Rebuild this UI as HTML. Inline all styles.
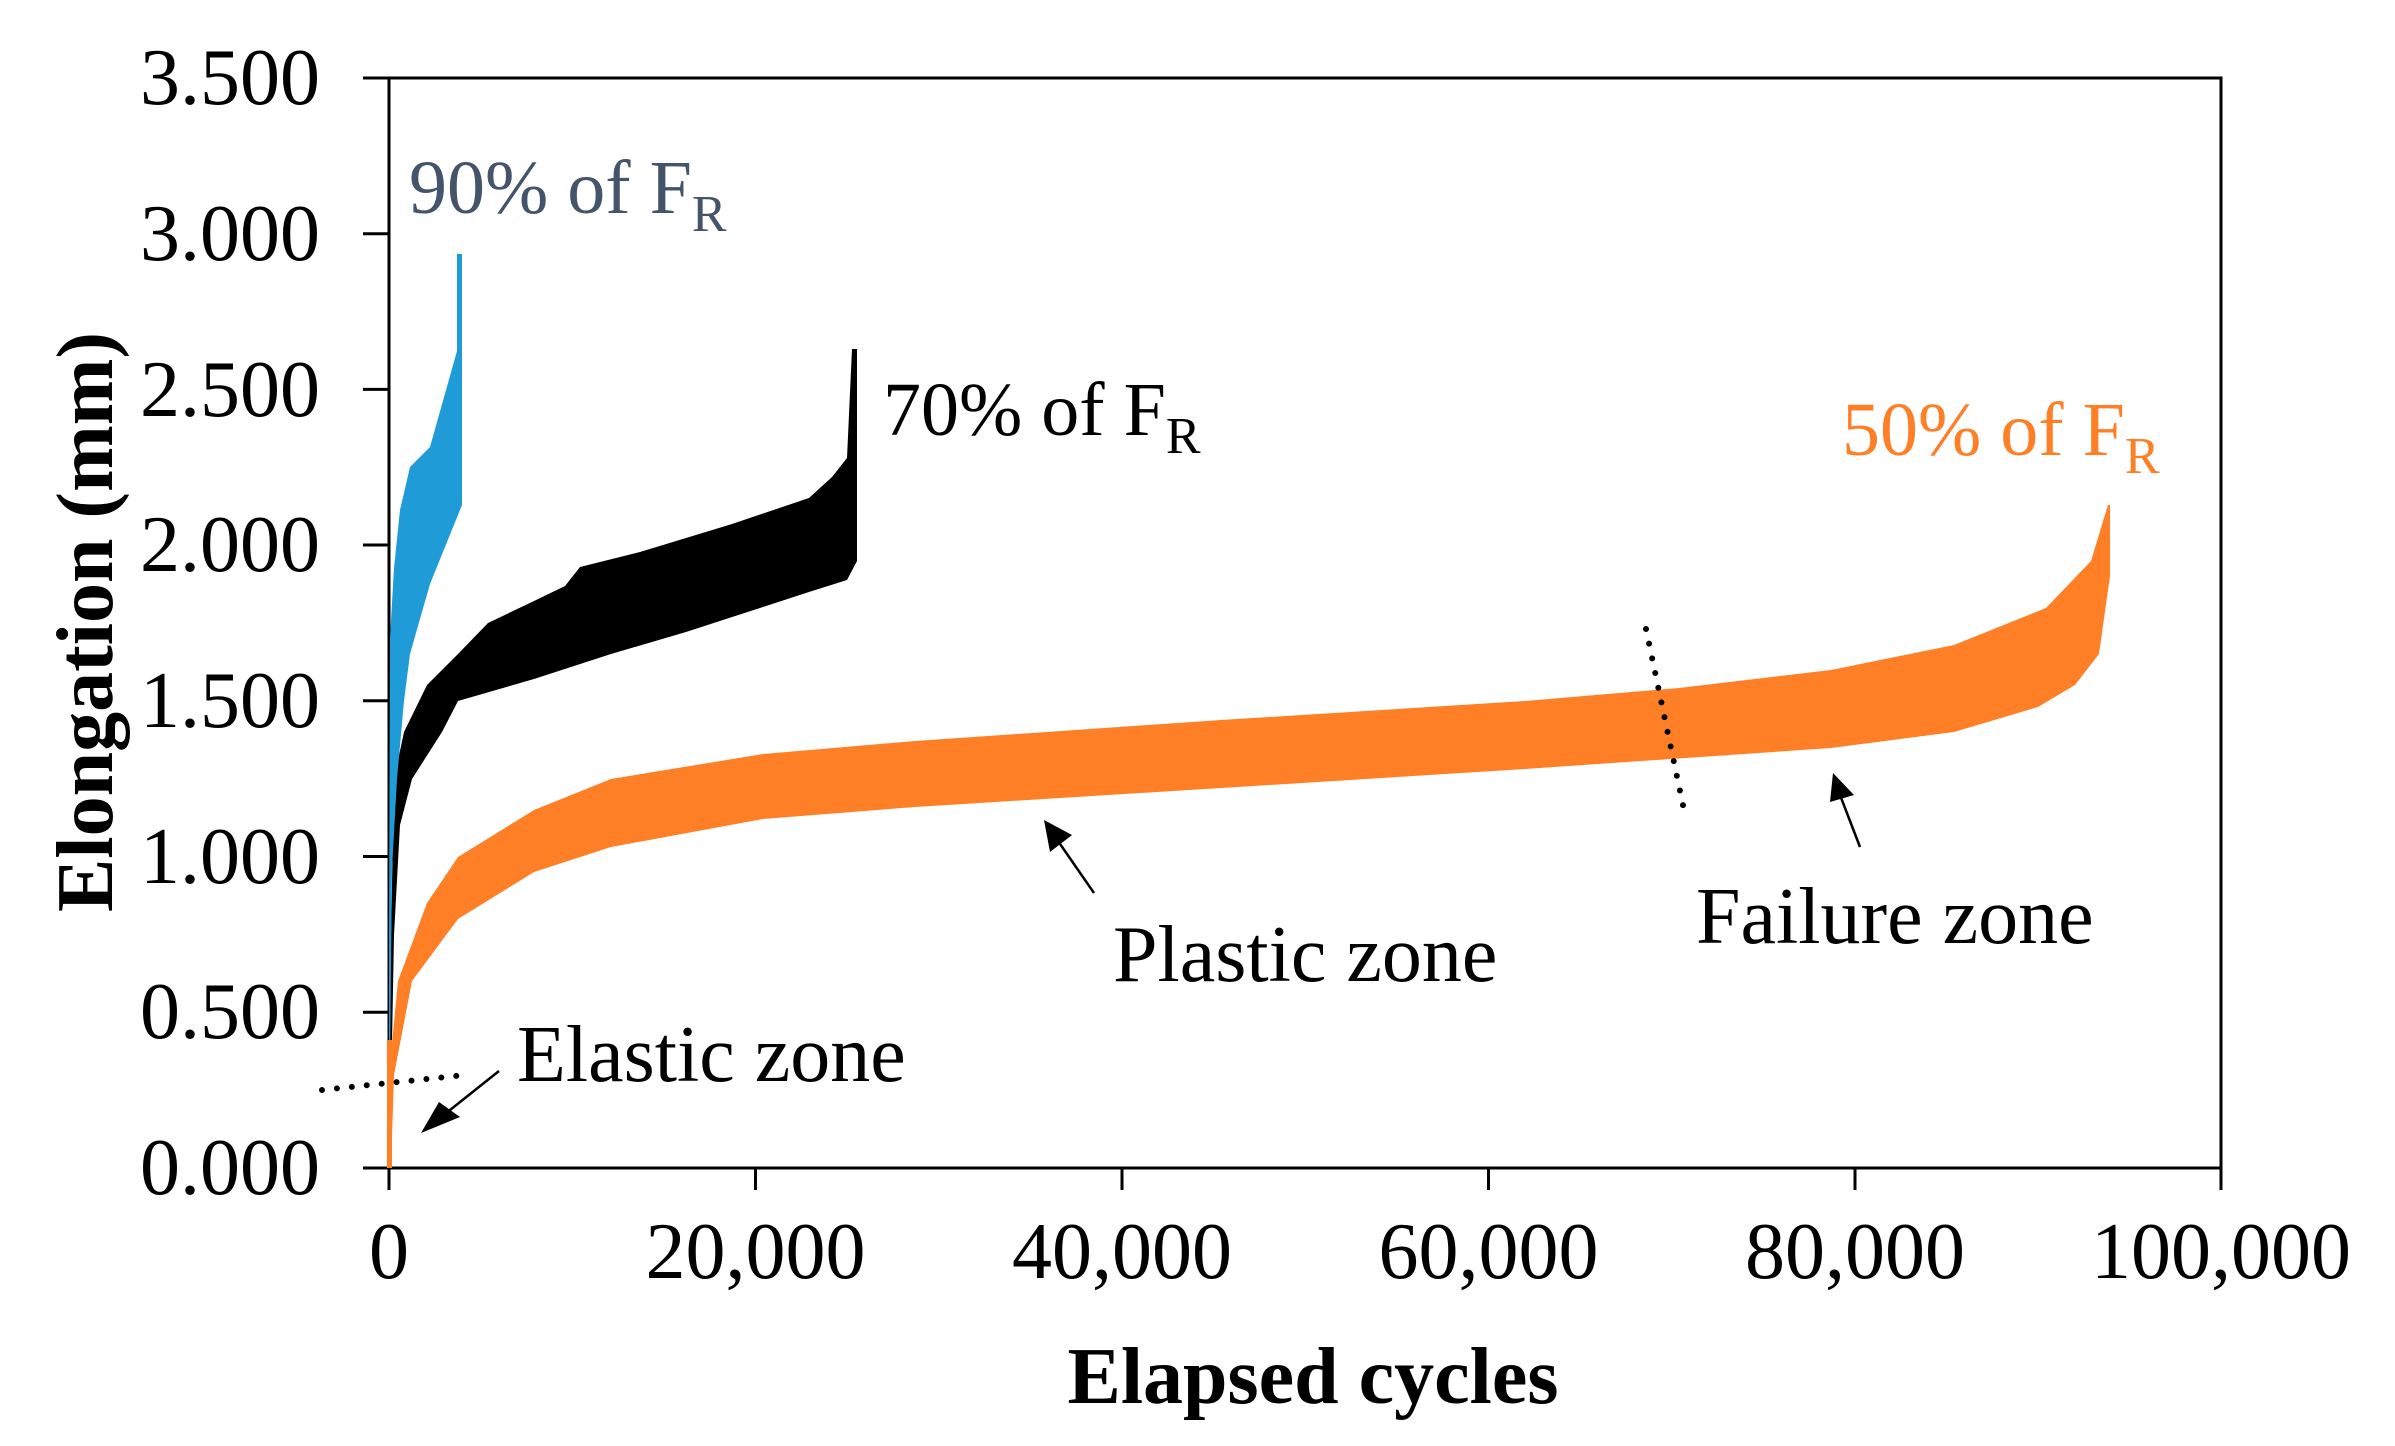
<!DOCTYPE html>
<html><head><meta charset="utf-8"><style>
html,body{margin:0;padding:0;background:#fff}
svg{display:block}
text{font-family:"Liberation Serif",serif}
</style></head><body>
<svg width="2395" height="1446" viewBox="0 0 2395 1446" xmlns="http://www.w3.org/2000/svg">
<!-- axes -->
<g stroke="#000" stroke-width="3" fill="none">
<rect x="389" y="78" width="1832" height="1090"/>
<line x1="363" y1="78" x2="389" y2="78"/>
<line x1="363" y1="233.7" x2="389" y2="233.7"/>
<line x1="363" y1="389.4" x2="389" y2="389.4"/>
<line x1="363" y1="545" x2="389" y2="545"/>
<line x1="363" y1="700.8" x2="389" y2="700.8"/>
<line x1="363" y1="856.5" x2="389" y2="856.5"/>
<line x1="363" y1="1012.3" x2="389" y2="1012.3"/>
<line x1="363" y1="1168" x2="389" y2="1168"/>
<line x1="389" y1="1168" x2="389" y2="1190"/>
<line x1="755.5" y1="1168" x2="755.5" y2="1190"/>
<line x1="1122" y1="1168" x2="1122" y2="1190"/>
<line x1="1488.5" y1="1168" x2="1488.5" y2="1190"/>
<line x1="1855" y1="1168" x2="1855" y2="1190"/>
<line x1="2221" y1="1168" x2="2221" y2="1190"/>
</g>
<g font-size="80" text-anchor="end">
<text x="320" y="104">3.500</text>
<text x="320" y="260">3.000</text>
<text x="320" y="416">2.500</text>
<text x="320" y="571">2.000</text>
<text x="320" y="727">1.500</text>
<text x="320" y="883">1.000</text>
<text x="320" y="1038">0.500</text>
<text x="320" y="1194">0.000</text>
</g>
<g font-size="80" text-anchor="middle">
<text x="389" y="1278">0</text>
<text x="755.5" y="1278">20,000</text>
<text x="1122" y="1278">40,000</text>
<text x="1488.5" y="1278">60,000</text>
<text x="1855" y="1278">80,000</text>
<text x="2221" y="1278">100,000</text>
</g>
<text x="1313" y="1403" font-size="80" font-weight="bold" text-anchor="middle">Elapsed cycles</text>
<text transform="translate(112,622) rotate(-90)" font-size="80" font-weight="bold" text-anchor="middle">Elongation (mm)</text>

<!-- orange -->
<polygon fill="#FF7F27" points="
389,1075 398,981 427,903 458,857 534,810 611,779 763,754 915,741 1221,720 1525,701 1679,688 1831,670 1954,645 2046,608 2091,561 2108,505
2110,505 2110,576 2099,654 2075,685 2038,707 1954,732 1831,748 1525,769 1221,788 915,807 763,819 611,847 534,872 458,919 412,981 394,1075 391,1168 387,1168"/>
<!-- black -->
<polygon fill="#000" points="
389,1043 394,779 404,732 427,685 458,654 488,623 534,601 565,586 580,567 640,552 732,524 809,498 832,477 847,458 852,349 857,349 857,561 847,580 809,592 763,607 686,632 611,654 534,679 458,701 442,732 412,779 400,825 394,935 392,1043"/>
<!-- blue -->
<polygon fill="#1F9BD7" points="
389,1168 389,934 390,638 394,568 400,510 410,467 430,447 457,351 457,254 462,254 462,505 430,584 410,654 404,701 397,779 392,868"/>
<rect x="387" y="1040" width="5" height="128" fill="#FF7F27"/>

<!-- labels -->
<text x="409" y="213" font-size="76" fill="#44546A">90% of F<tspan font-size="52" dy="18">R</tspan></text>
<text x="883" y="435" font-size="76" fill="#000">70% of F<tspan font-size="52" dy="18">R</tspan></text>
<text x="1842" y="455" font-size="76" fill="#FF7F27">50% of F<tspan font-size="52" dy="18">R</tspan></text>
<text x="517" y="1081" font-size="80">Elastic zone</text>
<text x="1113" y="981" font-size="80">Plastic zone</text>
<text x="1696" y="943" font-size="80">Failure zone</text>

<!-- dotted lines -->
<g stroke="#000" stroke-width="6" stroke-dasharray="0 15" stroke-linecap="round" fill="none">
<line x1="322" y1="1090" x2="465" y2="1075"/>
<line x1="1646" y1="629" x2="1684" y2="810"/>
</g>
<!-- arrows -->
<g stroke="#000" stroke-width="2.5" fill="none">
<line x1="499" y1="1071" x2="445" y2="1114"/>
<line x1="1094" y1="893" x2="1058" y2="841"/>
<line x1="1860" y1="847" x2="1840" y2="795"/>
</g>
<g fill="#000">
<polygon points="421,1133 439,1102 460,1117"/>
<polygon points="1044,820 1072,835 1050,852"/>
<polygon points="1833,773 1854,795 1830,802"/>
</g>
</svg>
</body></html>
